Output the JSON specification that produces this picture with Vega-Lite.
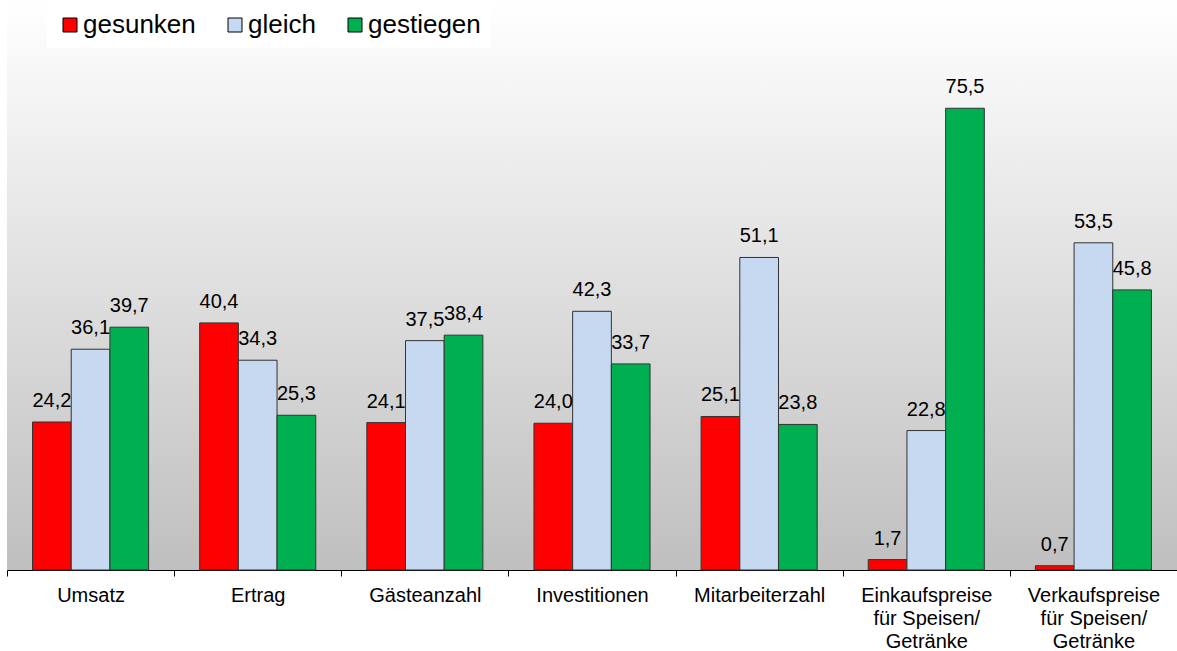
{
  "$schema": "https://vega.github.io/schema/vega-lite/v6.json",
  "width": 1170,
  "height": 570,
  "autosize": {"type": "none"},
  "padding": {"left": 7, "top": 0, "right": 0, "bottom": 81},
  "background": "white",
  "config": {
    "view": {"stroke": null, "fill": {"gradient": "linear", "x1": 0, "y1": 0, "x2": 0, "y2": 1, "stops": [{"offset": 0, "color": "#ffffff"}, {"offset": 1, "color": "#bfbfbf"}]}},
    "font": "Liberation Sans",
    "locale": {"number": {"decimal": ",", "thousands": ".", "grouping": [3], "currency": ["", " €"]}}
  },
  "data": {
    "values": [
      {"kategorie": "Umsatz", "entwicklung": "gesunken", "anteil": 24.2},
      {"kategorie": "Umsatz", "entwicklung": "gleich", "anteil": 36.1},
      {"kategorie": "Umsatz", "entwicklung": "gestiegen", "anteil": 39.7},
      {"kategorie": "Ertrag", "entwicklung": "gesunken", "anteil": 40.4},
      {"kategorie": "Ertrag", "entwicklung": "gleich", "anteil": 34.3},
      {"kategorie": "Ertrag", "entwicklung": "gestiegen", "anteil": 25.3},
      {"kategorie": "Gästeanzahl", "entwicklung": "gesunken", "anteil": 24.1},
      {"kategorie": "Gästeanzahl", "entwicklung": "gleich", "anteil": 37.5},
      {"kategorie": "Gästeanzahl", "entwicklung": "gestiegen", "anteil": 38.4},
      {"kategorie": "Investitionen", "entwicklung": "gesunken", "anteil": 24.0},
      {"kategorie": "Investitionen", "entwicklung": "gleich", "anteil": 42.3},
      {"kategorie": "Investitionen", "entwicklung": "gestiegen", "anteil": 33.7},
      {"kategorie": "Mitarbeiterzahl", "entwicklung": "gesunken", "anteil": 25.1},
      {"kategorie": "Mitarbeiterzahl", "entwicklung": "gleich", "anteil": 51.1},
      {"kategorie": "Mitarbeiterzahl", "entwicklung": "gestiegen", "anteil": 23.8},
      {"kategorie": "Einkaufspreise für Speisen/ Getränke", "entwicklung": "gesunken", "anteil": 1.7},
      {"kategorie": "Einkaufspreise für Speisen/ Getränke", "entwicklung": "gleich", "anteil": 22.8},
      {"kategorie": "Einkaufspreise für Speisen/ Getränke", "entwicklung": "gestiegen", "anteil": 75.5},
      {"kategorie": "Verkaufspreise für Speisen/ Getränke", "entwicklung": "gesunken", "anteil": 0.7},
      {"kategorie": "Verkaufspreise für Speisen/ Getränke", "entwicklung": "gleich", "anteil": 53.5},
      {"kategorie": "Verkaufspreise für Speisen/ Getränke", "entwicklung": "gestiegen", "anteil": 45.8}
    ]
  },
  "encoding": {
    "x": {
      "field": "kategorie",
      "type": "nominal",
      "sort": null,
      "title": null,
      "scale": {"paddingInner": 0, "paddingOuter": 0},
      "axis": {
        "domainColor": "black",
        "domainWidth": 1,
        "tickColor": "black",
        "tickSize": 6,
        "tickBand": "extent",
        "labelAngle": 0,
        "labelFontSize": 20,
        "labelColor": "black",
        "labelPadding": 9,
        "labelLineHeight": 23,
        "labelLimit": 0,
        "labelExpr": "split(replace(replace(datum.label, ' für ', '|für '), '/ ', '/|'), '|')"
      }
    },
    "xOffset": {
      "field": "entwicklung",
      "type": "nominal",
      "sort": ["gesunken", "gleich", "gestiegen"],
      "scale": {"paddingInner": 0, "paddingOuter": 0.66}
    },
    "y": {
      "field": "anteil",
      "type": "quantitative",
      "scale": {"domain": [0, 93.2], "nice": false},
      "axis": null
    }
  },
  "layer": [
    {
      "mark": {"type": "bar", "stroke": "#333333", "strokeWidth": 1},
      "encoding": {
        "color": {
          "field": "entwicklung",
          "type": "nominal",
          "sort": ["gesunken", "gleich", "gestiegen"],
          "scale": {"domain": ["gesunken", "gleich", "gestiegen"], "range": ["#ff0000", "#c6d9f1", "#00b050"]},
          "legend": {
            "title": null,
            "orient": "none",
            "legendX": 40,
            "legendY": 2,
            "direction": "horizontal",
            "fillColor": "white",
            "padding": 10,
            "symbolType": "square",
            "symbolSize": 196,
            "symbolStrokeColor": "black",
            "symbolStrokeWidth": 1,
            "labelFontSize": 26,
            "labelColor": "black",
            "labelOffset": 0,
            "columnPadding": 26
          }
        }
      }
    },
    {
      "mark": {"type": "text", "baseline": "alphabetic", "dy": -15, "fontSize": 20, "color": "black"},
      "encoding": {
        "text": {"field": "anteil", "type": "quantitative", "format": ".1f"}
      }
    }
  ]
}
